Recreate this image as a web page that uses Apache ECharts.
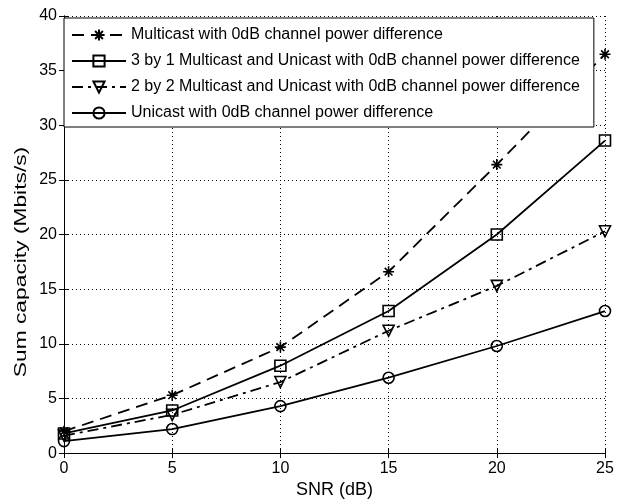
<!DOCTYPE html>
<html><head><meta charset="utf-8">
<script src="https://cdn.jsdelivr.net/npm/echarts@6/dist/echarts.min.js"></script>
<style>html,body{margin:0;padding:0;background:#fff}#c{width:627px;height:504px}</style>
</head><body><div id="c"></div>
<script>
const snr = [0, 5, 10, 15, 20, 25];
const multicast = [2.0, 5.3, 9.7, 16.6, 26.4, 36.5];
const mix31 = [1.8, 3.9, 8.0, 13.0, 20.0, 28.6];
const mix22 = [1.6, 3.5, 6.5, 11.2, 15.3, 20.3];
const unicast = [1.1, 2.2, 4.3, 6.9, 9.8, 13.0];
const names = [
  'Multicast with 0dB channel power difference',
  '3 by 1 Multicast and Unicast with 0dB channel power difference',
  '2 by 2 Multicast and Unicast with 0dB channel power difference',
  'Unicast with 0dB channel power difference'
];
const xTitle = 'SNR (dB)';
const yTitle = 'Sum capacity (Mbits/s)';

const star = 'path://M0,-10L0,10M-10,0L10,0M-7,-7L7,7M-7,7L7,-7';
function pts(arr){ return snr.map((x,i)=>[x, arr[i]]); }
function mk(name, data, lineType, symbol, size, rotate){
  return {
    name, type:'line', data: pts(data),
    symbol, symbolSize: size, symbolRotate: rotate || 0,
    showAllSymbol: true,
    lineStyle:{color:'#000', width:1.8, type: lineType},
    itemStyle:{color:'rgba(255,255,255,0)', borderColor:'#000', borderWidth:1.6},
    emphasis:{disabled:true},
    z: 3
  };
}
const chart = echarts.init(document.getElementById('c'), null, {renderer:'canvas'});
const font = 'Liberation Sans, Arial, sans-serif';
const axisCommon = {
  type:'value',
  axisLine:{show:true, lineStyle:{color:'#000', width:1}},
  axisTick:{show:true, inside:true, length:5, lineStyle:{color:'#000'}},
};
chart.setOption({
  animation:false,
  backgroundColor:'#fff',
  textStyle:{fontFamily:font},
  grid:{left:64, right:22, top:16, bottom:47, show:false},
  legend:{
    orient:'vertical', left:64, top:18,
    data: names,
    backgroundColor:'#fff', borderColor:'#000', borderWidth:1,
    padding:[9, 14, 6, 7], itemGap:10, itemWidth:54, itemHeight:14,
    textStyle:{fontSize:16, lineHeight:16, color:'#000', fontFamily:font},
    z: 10
  },
  graphic:[{
    type:'text', x:21, y:262, rotation:Math.PI/2, scaleX:1.34, z:20,
    style:{text:yTitle, font:'17px Liberation Sans, Arial, sans-serif', fill:'#000', align:'center', verticalAlign:'middle'}
  }],
  xAxis:[
    Object.assign({}, axisCommon, {
      min:0, max:25, interval:5, position:'bottom',
      axisLabel:{color:'#000', fontSize:16, margin:7, fontFamily:font},
      splitLine:{show:true, lineStyle:{color:'#000', type:[1,3], width:1}},
      name:xTitle, nameLocation:'middle', nameGap:25,
      nameTextStyle:{color:'#000', fontSize:18, fontFamily:font}
    }),
    Object.assign({}, axisCommon, {
      min:0, max:25, interval:5, position:'top',
      axisLabel:{show:false}, splitLine:{show:false}
    })
  ],
  yAxis:[
    Object.assign({}, axisCommon, {
      min:0, max:40, interval:5, position:'left',
      axisLabel:{color:'#000', fontSize:16, margin:7, fontFamily:font},
      splitLine:{show:true, lineStyle:{color:'#000', type:[1,3], width:1}}
    }),
    Object.assign({}, axisCommon, {
      min:0, max:40, interval:5, position:'right',
      axisLabel:{show:false}, splitLine:{show:false}
    })
  ],
  series:[
    mk(names[0], multicast, [12,7], star, 11),
    mk(names[1], mix31, 'solid', 'rect', 11),
    mk(names[2], mix22, [11,5,3,5], 'triangle', 11, 180),
    mk(names[3], unicast, 'solid', 'circle', 11)
  ]
});
</script></body></html>
